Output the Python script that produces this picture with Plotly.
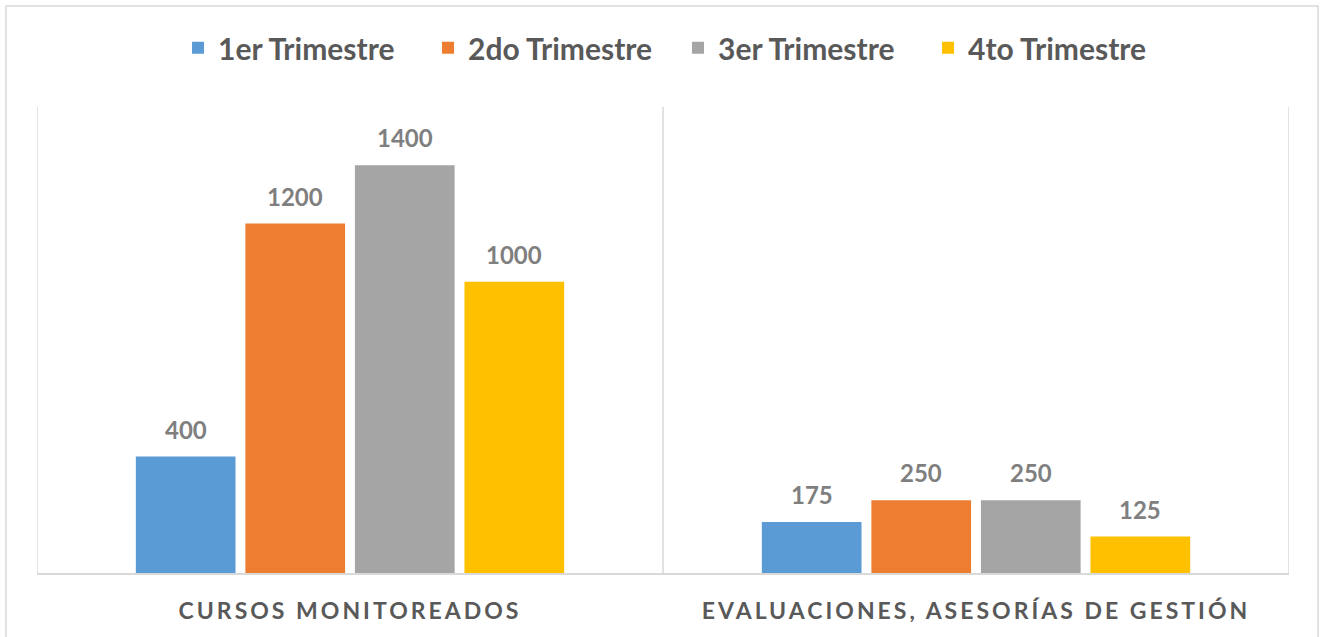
import plotly.graph_objects as go

categories = ["CURSOS MONITOREADOS", "EVALUACIONES, ASESORÍAS DE GESTIÓN"]
series_names = ["1er Trimestre", "2do Trimestre", "3er Trimestre", "4to Trimestre"]
series_values = [
    [400, 175],
    [1200, 250],
    [1400, 250],
    [1000, 125],
]
colors = ["#5b9bd5", "#ed7d31", "#a5a5a5", "#ffc000"]

FONT = "Lato"
BARGAP = 0.30
BARGROUPGAP = 0.09

fig = go.Figure()
for name, vals, col in zip(series_names, series_values, colors):
    fig.add_trace(go.Bar(
        x=categories, y=vals, name=name,
        marker=dict(color=col, line=dict(width=0)),
    ))

# data labels as annotations above bars (positions derived from bar layout)
n = len(series_names)
slot = (1 - BARGAP) / n
for i, vals in enumerate(series_values):
    off = (i - (n - 1) / 2) * slot
    for ci, v in enumerate(vals):
        fig.add_annotation(
            x=ci + off, y=v, xref="x", yref="y", text=str(v),
            showarrow=False, yanchor="bottom", yshift=11,
            font=dict(family=FONT, size=24, color="#7f7f7f", weight="bold"),
        )

# category separators (vertical gridlines)
for xv in [-0.5, 0.5, 1.5]:
    fig.add_shape(type="line", xref="x", yref="paper", x0=xv, x1=xv, y0=0, y1=1,
                  line=dict(color="#d9d9d9", width=1.5), layer="below")

# outer chart border
fig.add_shape(type="rect", xref="paper", yref="paper",
              x0=-0.0248, x1=1.0232, y0=-0.15, y1=1.2167,
              line=dict(color="#d9d9d9", width=1.5))

fig.update_layout(
    width=1322, height=637,
    margin=dict(l=37, r=33, t=107, b=64),
    paper_bgcolor="white", plot_bgcolor="white",
    barmode="group", bargap=BARGAP, bargroupgap=BARGROUPGAP,
    showlegend=True,
    legend=dict(
        orientation="h", x=0.512, xanchor="center", y=1.127, yanchor="middle",
        font=dict(family=FONT, size=30, color="#595959", weight="bold"),
        entrywidth=205, entrywidthmode="pixels",
        itemsizing="constant",
    ),
    xaxis=dict(
        type="category", range=[-0.5, 1.5],
        showline=True, linecolor="#d9d9d9", linewidth=2,
        showgrid=False, ticks="", ticklabelstandoff=16,
        tickfont=dict(family=FONT, size=23, color="#595959", weight="bold"),
    ),
    yaxis=dict(range=[0, 1600], visible=False, showgrid=False),
)

post = """
document.body.style.margin='0';
function ls(){document.querySelectorAll('.xtick text').forEach(function(t){t.style.letterSpacing='3px';});}
ls();
var gd=document.getElementById('{plot_id}');
if(gd&&gd.on){gd.on('plotly_afterplot',ls);}
"""

fig.write_html("out.html", post_script=post, config={"displayModeBar": False})
